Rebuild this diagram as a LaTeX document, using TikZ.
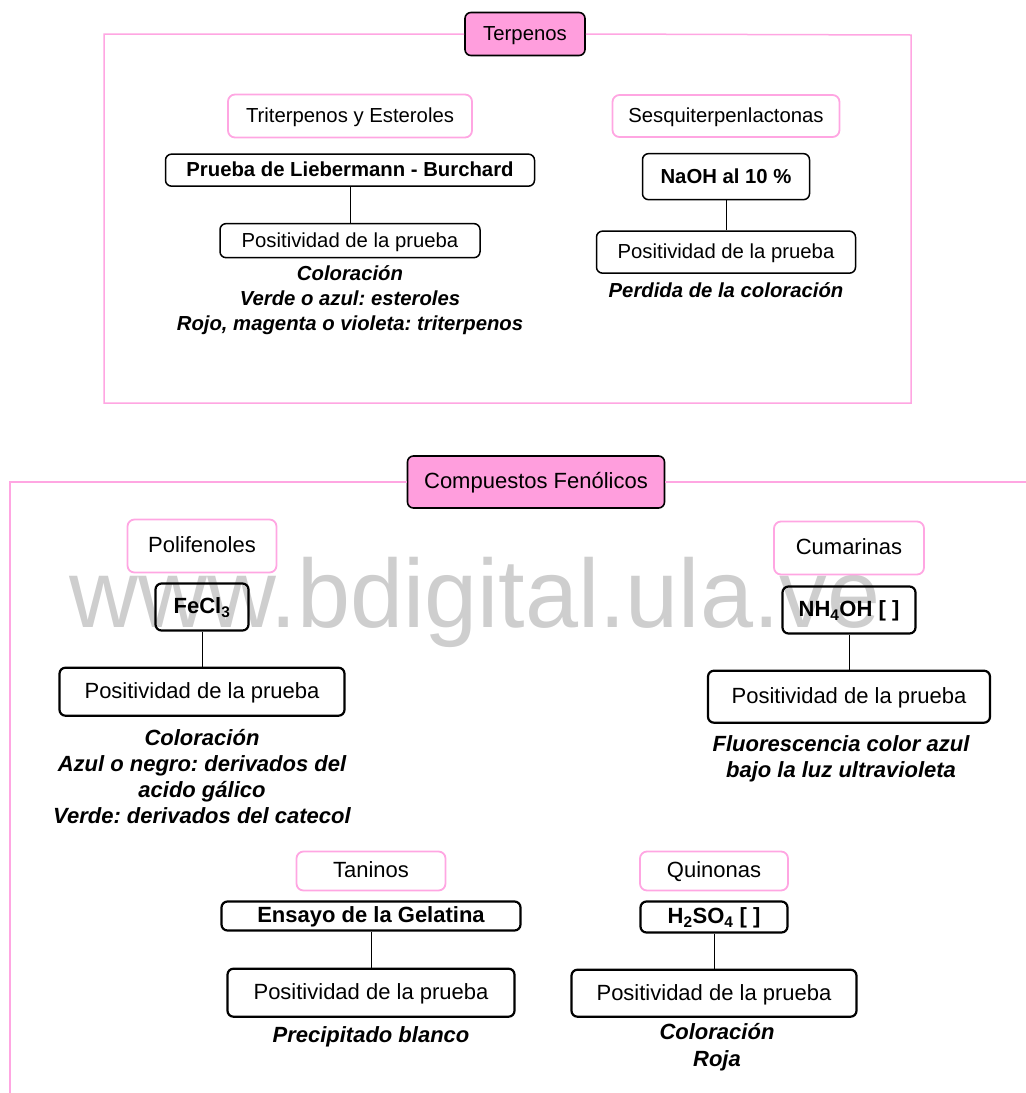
\documentclass[tikz,border=0pt]{standalone}
\usepackage{fontspec}
\setmainfont{Liberation Sans}
\usetikzlibrary{positioning}

\definecolor{headpink}{RGB}{255,158,221}
\definecolor{linepink}{RGB}{255,166,226}
\definecolor{markgray}{RGB}{206,206,206}

\newcommand{\topsz}{\fontsize{20.3}{25}\selectfont}
\newcommand{\botsz}{\fontsize{22}{26}\selectfont}

\begin{document}
\frenchspacing
\begin{tikzpicture}[x=1pt, y=-1pt,
    wh/.style 2 args={minimum width=#1pt, minimum height=#2pt},
    boxtext/.style={inner sep=0pt, text height=14.6pt, text depth=1pt},
    head/.style={boxtext, draw=black, fill=headpink, rounded corners=6pt, line width=1.6pt},
    cat/.style={boxtext, draw=linepink, rounded corners=7pt, line width=1.8pt},
    test/.style={boxtext, draw=black, rounded corners=6pt, line width=1.5pt},
    posbox/.style={boxtext, draw=black, rounded corners=6pt, line width=1.5pt},
    thick box/.style={line width=2.2pt},
    result/.style={align=center, inner sep=0pt},
    frame/.style={draw=linepink, line width=1.5pt},
    link/.style={draw=black, line width=0.9pt}
]
\useasboundingbox (0,0) rectangle (1026,1093);

% Watermark
\node[anchor=base, text=markgray, font=\fontsize{97}{97}\selectfont, inner sep=0pt, xscale=0.983] (mark) at (475,627) {www.bdigital.ula.ve};

% Terpenos
\node[head, wh={120}{43}, font=\topsz] (terp) at (525,34) {Terpenos};
\draw[frame] (terp.west) -| (104,403) -| (911,35) -- (terp.east);

\node[cat, wh={244}{43}, font=\topsz] (trit) at (350,116) {Triterpenos y Esteroles};
\node[test, wh={369}{32}, font=\topsz\bfseries, below=15pt of trit] (lieb) {Prueba de Liebermann - Burchard};
\node[posbox, wh={260}{34}, font=\topsz, below=36pt of lieb] (pos1) {Positividad de la prueba};
\node[result, font=\topsz\bfseries\itshape, below=7pt of pos1] (res1) {Coloración\\Verde o azul: esteroles\\Rojo, magenta o violeta: triterpenos};

\node[cat, wh={227}{42}, font=\topsz] (sesq) at (726,116) {Sesquiterpenlactonas};
\node[test, wh={167}{46}, font=\topsz\bfseries, below=15pt of sesq] (naoh) {NaOH al 10 \%};
\node[posbox, wh={259}{42}, font=\topsz, below=30pt of naoh] (pos2) {Positividad de la prueba};
\node[result, font=\topsz\bfseries\itshape, below=9pt of pos2] (res2) {Perdida de la coloración};

% Compuestos Fenolicos
\node[head, wh={257}{52}, font=\botsz] (comp) at (536,482) {Compuestos Fenólicos};
\draw[frame] (10,1093) |- (comp.west);
\draw[frame] (comp.east) -- (1026,482);

\node[cat, wh={149}{53}, font=\botsz] (poli) at (202,546) {Polifenoles};
\node[test, thick box, wh={93}{47}, font=\botsz\bfseries, below=9pt of poli] (fecl) {FeCl\textsubscript{3}};
\node[posbox, thick box, wh={285}{48}, font=\botsz, below=35pt of fecl] (pos3) {Positividad de la prueba};
\node[result, font=\botsz\bfseries\itshape, below=12pt of pos3] (res3) {Coloración\\Azul o negro: derivados del\\acido gálico\\Verde: derivados del catecol};

\node[cat, wh={150}{53}, font=\botsz] (cuma) at (849,548) {Cumarinas};
\node[test, thick box, wh={133}{47}, font=\botsz\bfseries, below=10pt of cuma] (nhoh) {NH\textsubscript{4}OH [ ]};
\node[posbox, thick box, wh={282}{52}, font=\botsz, below=35pt of nhoh] (pos4) {Positividad de la prueba};
\node[result, font=\botsz\bfseries\itshape, below=12pt of pos4, xshift=-8pt] (res4) {Fluorescencia color azul\\bajo la luz ultravioleta};

\node[cat, wh={149}{39}, font=\botsz] (tani) at (371,871) {Taninos};
\node[test, thick box, wh={299}{29}, font=\botsz\bfseries, below=9pt of tani] (gela) {Ensayo de la Gelatina};
\node[posbox, thick box, wh={287}{48}, font=\botsz, below=36pt of gela] (pos5) {Positividad de la prueba};
\node[result, font=\botsz\bfseries\itshape, below=9pt of pos5] (res5) {Precipitado blanco};

\node[cat, wh={148}{39}, font=\botsz] (quin) at (714,871) {Quinonas};
\node[test, thick box, wh={147}{31}, font=\botsz\bfseries, below=9pt of quin] (hso) {H\textsubscript{2}SO\textsubscript{4} [ ]};
\node[posbox, thick box, wh={285}{47}, font=\botsz, below=35pt of hso] (pos6) {Positividad de la prueba};
\node[result, font=\fontsize{22}{27}\selectfont\bfseries\itshape, below=5pt of pos6, xshift=3pt] (res6) {Coloración\\Roja};

% Lines
\draw[link] (lieb) -- (pos1);
\draw[link] (naoh) -- (pos2);
\draw[link] (fecl) -- (pos3);
\draw[link] (nhoh) -- (pos4);
\draw[link] (gela) -- (pos5);
\draw[link] (hso) -- (pos6);

\end{tikzpicture}
\end{document}
